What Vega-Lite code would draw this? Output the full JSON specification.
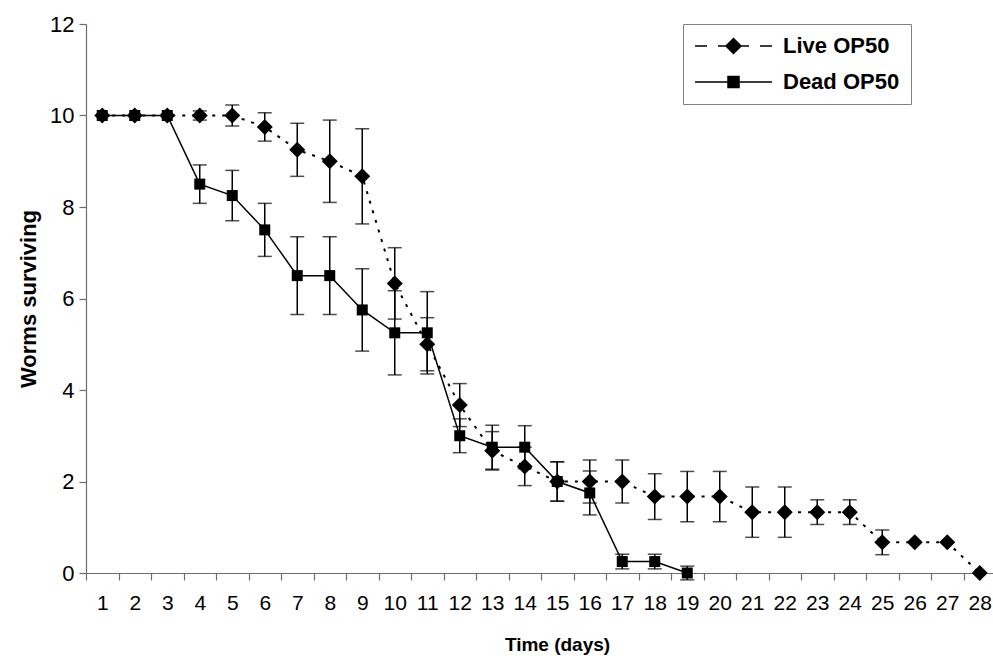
{
  "$schema": "https://vega.github.io/schema/vega-lite/v6.json",
  "width": 910,
  "height": 549,
  "autosize": {"type": "none"},
  "padding": {"left": 86, "top": 24, "right": 0, "bottom": 83},
  "background": "white",
  "config": {
    "view": {"stroke": null},
    "font": "Liberation Sans",
    "axis": {"grid": false, "labelColor": "black", "titleColor": "black", "domainColor": "#6e6e6e", "tickColor": "#6e6e6e", "domainWidth": 1.2, "tickWidth": 1.2, "labelFont": "Liberation Sans", "titleFont": "Liberation Sans"}
  },
  "data": {
    "values": [
      {"day": 1, "series": "Live OP50", "mean": 10, "err": 0},
      {"day": 2, "series": "Live OP50", "mean": 10, "err": 0},
      {"day": 3, "series": "Live OP50", "mean": 10, "err": 0},
      {"day": 4, "series": "Live OP50", "mean": 10, "err": 0.1},
      {"day": 5, "series": "Live OP50", "mean": 10, "err": 0.23},
      {"day": 6, "series": "Live OP50", "mean": 9.75, "err": 0.31},
      {"day": 7, "series": "Live OP50", "mean": 9.25, "err": 0.58},
      {"day": 8, "series": "Live OP50", "mean": 9.0, "err": 0.9},
      {"day": 9, "series": "Live OP50", "mean": 8.67, "err": 1.04},
      {"day": 10, "series": "Live OP50", "mean": 6.33, "err": 0.78},
      {"day": 11, "series": "Live OP50", "mean": 5.0, "err": 0.58},
      {"day": 12, "series": "Live OP50", "mean": 3.67, "err": 0.47},
      {"day": 13, "series": "Live OP50", "mean": 2.67, "err": 0.42},
      {"day": 14, "series": "Live OP50", "mean": 2.33, "err": 0.42},
      {"day": 15, "series": "Live OP50", "mean": 2.0, "err": 0.43},
      {"day": 16, "series": "Live OP50", "mean": 2.0, "err": 0.47},
      {"day": 17, "series": "Live OP50", "mean": 2.0, "err": 0.47},
      {"day": 18, "series": "Live OP50", "mean": 1.67, "err": 0.5},
      {"day": 19, "series": "Live OP50", "mean": 1.67, "err": 0.55},
      {"day": 20, "series": "Live OP50", "mean": 1.67, "err": 0.55},
      {"day": 21, "series": "Live OP50", "mean": 1.33, "err": 0.55},
      {"day": 22, "series": "Live OP50", "mean": 1.33, "err": 0.55},
      {"day": 23, "series": "Live OP50", "mean": 1.33, "err": 0.27},
      {"day": 24, "series": "Live OP50", "mean": 1.33, "err": 0.27},
      {"day": 25, "series": "Live OP50", "mean": 0.67, "err": 0.27},
      {"day": 26, "series": "Live OP50", "mean": 0.67, "err": 0},
      {"day": 27, "series": "Live OP50", "mean": 0.67, "err": 0},
      {"day": 28, "series": "Live OP50", "mean": 0, "err": 0},
      {"day": 1, "series": "Dead OP50", "mean": 10, "err": 0},
      {"day": 2, "series": "Dead OP50", "mean": 10, "err": 0},
      {"day": 3, "series": "Dead OP50", "mean": 10, "err": 0},
      {"day": 4, "series": "Dead OP50", "mean": 8.5, "err": 0.42},
      {"day": 5, "series": "Dead OP50", "mean": 8.25, "err": 0.55},
      {"day": 6, "series": "Dead OP50", "mean": 7.5, "err": 0.58},
      {"day": 7, "series": "Dead OP50", "mean": 6.5, "err": 0.85},
      {"day": 8, "series": "Dead OP50", "mean": 6.5, "err": 0.85},
      {"day": 9, "series": "Dead OP50", "mean": 5.75, "err": 0.9},
      {"day": 10, "series": "Dead OP50", "mean": 5.25, "err": 0.92},
      {"day": 11, "series": "Dead OP50", "mean": 5.25, "err": 0.9},
      {"day": 12, "series": "Dead OP50", "mean": 3.0, "err": 0.37},
      {"day": 13, "series": "Dead OP50", "mean": 2.75, "err": 0.48},
      {"day": 14, "series": "Dead OP50", "mean": 2.75, "err": 0.47},
      {"day": 15, "series": "Dead OP50", "mean": 2.0, "err": 0.43},
      {"day": 16, "series": "Dead OP50", "mean": 1.75, "err": 0.48},
      {"day": 17, "series": "Dead OP50", "mean": 0.25, "err": 0.16},
      {"day": 18, "series": "Dead OP50", "mean": 0.25, "err": 0.16},
      {"day": 19, "series": "Dead OP50", "mean": 0.0, "err": 0.15}
    ]
  },
  "encoding": {
    "x": {
      "field": "day",
      "type": "quantitative",
      "scale": {"domain": [0.5, 28.5], "nice": false, "zero": false},
      "axis": {
        "values": [0.5, 1.5, 2.5, 3.5, 4.5, 5.5, 6.5, 7.5, 8.5, 9.5, 10.5, 11.5, 12.5, 13.5, 14.5, 15.5, 16.5, 17.5, 18.5, 19.5, 20.5, 21.5, 22.5, 23.5, 24.5, 25.5, 26.5, 27.5],
        "labelExpr": "format(datum.value + 0.5, 'd')",
        "labelOffset": 16.25,
        "labelFlush": false,
        "labelOverlap": false,
        "labelFontSize": 21,
        "labelPadding": 12,
        "tickSize": 7,
        "title": "Time (days)",
        "titleFontSize": 19,
        "titleFontWeight": "bold",
        "titlePadding": 22,
        "titleX": 471
      }
    },
    "y": {
      "field": "mean",
      "type": "quantitative",
      "scale": {"domain": [0, 12], "nice": false},
      "axis": {
        "values": [0, 2, 4, 6, 8, 10, 12],
        "labelFontSize": 22,
        "labelPadding": 5,
        "tickSize": 7,
        "title": "Worms surviving",
        "titleFontSize": 22,
        "titleFontWeight": "bold",
        "titlePadding": 9
      }
    }
  },
  "layer": [
    {
      "transform": [{"filter": "datum.err > 0"}],
      "mark": {"type": "errorbar", "color": "black", "ticks": {"size": 14, "thickness": 1.5, "color": "black"}, "rule": {"strokeWidth": 1.5}, "clip": false},
      "encoding": {"yError": {"field": "err"}}
    },
    {
      "transform": [{"filter": "datum.series === 'Live OP50'"}],
      "mark": {"type": "line", "color": "black", "strokeWidth": 2, "strokeDash": [3, 7]},
      "encoding": {}
    },
    {
      "transform": [{"filter": "datum.series === 'Dead OP50'"}],
      "mark": {"type": "line", "color": "black", "strokeWidth": 1.5},
      "encoding": {}
    },
    {
      "transform": [{"filter": "datum.series === 'Live OP50'"}],
      "mark": {"type": "point", "shape": "diamond", "size": 256, "filled": true, "color": "black", "opacity": 1},
      "encoding": {}
    },
    {
      "transform": [{"filter": "datum.series === 'Dead OP50'"}],
      "mark": {"type": "point", "shape": "square", "size": 121, "filled": true, "color": "black", "opacity": 1},
      "encoding": {}
    },
    {
      "transform": [{"filter": "false"}],
      "mark": {"type": "point", "filled": true, "fill": "black", "stroke": "black", "strokeWidth": 1.5, "opacity": 1},
      "encoding": {
        "shape": {
          "field": "series",
          "type": "nominal",
          "scale": {
            "domain": ["Live OP50", "Dead OP50"],
            "range": [
              "M-1,0H0.2M1.3,0H4.4M5.5,0H6.7M2.1,0L2.85,-0.75L3.6,0L2.85,0.75Z",
              "M-1,0H6.7M2.3,-0.55H3.4V0.55H2.3Z"
            ]
          },
          "legend": {
            "orient": "none",
            "legendX": 597,
            "legendY": 0,
            "title": null,
            "padding": 11,
            "strokeColor": "#808080",
            "fillColor": "white",
            "labelFont": "Liberation Sans",
            "labelFontSize": 22,
            "labelFontWeight": "bold",
            "labelColor": "black",
            "labelOffset": 67,
            "rowPadding": 14,
            "symbolSize": 400,
            "symbolStrokeWidth": 1.5,
            "symbolOpacity": 1
          }
        }
      }
    }
  ]
}
